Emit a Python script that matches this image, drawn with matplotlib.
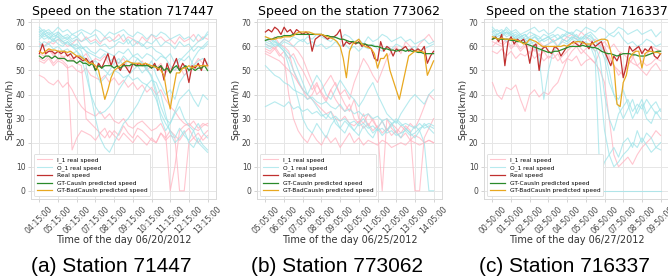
import numpy as np
import matplotlib.pyplot as plt

plt.rcParams['font.family'] = 'DejaVu Sans'

# colours
PINK = '#ffb3c0'
CYAN = '#9fe4e9'
RED = '#c0302f'
GREEN = '#2a8a2a'
ORANGE = '#e8a820'

# ---------------- station 717447 (a) ----------------
a_ticks = ['04:15:00', '05:15:00', '06:15:00', '07:15:00', '08:15:00',
           '09:15:00', '10:15:00', '11:15:00', '12:15:00', '13:15:00']
# main series, one value every 10 minutes
a_real = [57, 61, 57, 58, 58, 57, 58, 57, 58, 56,
          57, 55, 56, 55, 54, 55, 53, 54, 50, 53,
          51, 54, 57, 52, 56, 52, 50, 53, 51, 49,
          53, 52, 53, 52, 53, 52, 51, 53, 50, 52,
          46, 53, 49, 52, 55, 50, 53, 51, 45, 52,
          51, 53, 50, 55, 52]
a_causin = [56, 55, 56, 56, 55, 56, 55, 55, 55, 54,
            54, 54, 53, 54, 53, 53, 52, 53, 50, 52,
            51, 52, 52, 52, 51, 52, 51, 52, 52, 52,
            53, 52, 52, 52, 52, 52, 51, 52, 51, 52,
            50, 51, 49, 51, 52, 50, 51, 52, 50, 51,
            50, 51, 51, 52, 50]
a_bad = [58, 57, 58, 59, 58.5, 58.5, 58, 58, 58, 57.5,
         58, 57, 56, 56, 55, 54, 53, 53, 52, 50,
         44, 38, 42, 47, 50, 51, 52, 53, 54, 53.5,
         53, 53, 53, 52.5, 53, 52.5, 52, 51.5, 51, 50,
         48, 40, 34, 42, 49, 49, 51, 51, 52, 51,
         52, 52, 52, 52, 52]
# neighbour sensors, one value every 15 minutes
a_in = [
    [55, 54, 56, 53, 55, 54, 52, 17, 22, 25, 24, 23, 21, 24, 26, 22, 25, 23, 27, 24,
     22, 26, 25, 23, 21, 20, 24, 22, 25, 23, 21, 24, 26, 22, 20, 23, 25],
    [48, 47, 45, 44, 46, 43, 45, 42, 38, 35, 33, 32, 31, 33, 30, 32, 29, 28, 30, 27,
     26, 28, 29, 27, 25, 26, 28, 24, 0, 10, 25, 27, 28, 26, 25, 27, 28],
    [57, 56, 58, 57, 55, 56, 54, 55, 53, 52, 30, 28, 26, 24, 22, 25, 23, 21, 24, 22,
     20, 23, 21, 19, 22, 20, 24, 21, 23, 22, 0, 0, 20, 22, 24, 21, 23],
    [61, 60, 62, 61, 63, 62, 60, 61, 63, 62, 64, 62, 63, 61, 64, 62, 63, 65, 62, 64,
     63, 61, 64, 62, 65, 63, 64, 62, 63, 61, 64, 62, 63, 65, 62, 64, 63],
    [54, 53, 55, 52, 54, 53, 51, 52, 50, 49, 51, 48, 47, 46, 48, 45, 47, 44, 46, 43,
     45, 42, 44, 41, 43, 40, 42, 38, 35, 33, 30, 28, 27, 29, 26, 28, 27],
    [58, 57, 59, 56, 58, 55, 57, 54, 56, 55, 57, 53, 55, 54, 56, 52, 54, 53, 55, 51,
     53, 52, 54, 50, 52, 51, 53, 49, 51, 50, 52, 48, 50, 52, 55, 53, 51],
]
a_out = [
    [66, 67, 65, 66, 68, 66, 67, 65, 66, 67, 66, 65, 67, 66, 64, 66, 65, 66, 67, 65,
     64, 66, 65, 63, 65, 64, 66, 65, 63, 64, 65, 63, 64, 62, 65, 63, 66],
    [63, 65, 64, 62, 66, 64, 63, 65, 64, 66, 63, 64, 65, 62, 63, 64, 62, 63, 65, 61,
     63, 62, 60, 62, 61, 63, 60, 62, 61, 59, 62, 60, 61, 58, 60, 59, 61],
    [60, 62, 61, 63, 61, 60, 62, 60, 61, 59, 60, 58, 57, 59, 58, 57, 56, 58, 57, 59,
     56, 57, 55, 57, 56, 54, 56, 55, 57, 53, 55, 54, 56, 52, 54, 55, 53],
    [65, 63, 64, 62, 63, 61, 62, 60, 58, 55, 48, 40, 35, 32, 33, 35, 38, 42, 45, 48,
     50, 52, 49, 51, 47, 40, 30, 25, 28, 32, 35, 30, 27, 25, 28, 24, 22],
    [67, 65, 66, 64, 65, 63, 64, 62, 63, 60, 58, 55, 50, 45, 47, 50, 53, 55, 52, 54,
     56, 55, 53, 50, 48, 42, 35, 30, 28, 33, 38, 40, 42, 38, 35, 40, 38],
    [64, 66, 63, 65, 64, 62, 63, 61, 60, 58, 52, 40, 30, 22, 18, 16, 20, 24, 28, 30,
     33, 36, 40, 44, 46, 45, 40, 32, 24, 20, 22, 25, 20, 18, 22, 19, 17],
    [62, 60, 61, 59, 60, 58, 59, 57, 58, 56, 55, 53, 54, 52, 50, 48, 50, 49, 47, 48,
     46, 47, 45, 44, 42, 38, 32, 28, 25, 22, 26, 23, 21, 25, 20, 18, 16],
    [66, 64, 65, 63, 64, 62, 61, 60, 59, 60, 58, 57, 56, 55, 57, 54, 55, 53, 56, 54,
     52, 55, 53, 51, 54, 48, 44, 40, 42, 38, 45, 48, 50, 55, 58, 60, 62],
    [68, 66, 67, 65, 66, 64, 65, 63, 64, 62, 63, 61, 62, 60, 61, 59, 60, 62, 61, 63,
     60, 62, 61, 59, 60, 58, 57, 55, 52, 50, 54, 56, 58, 60, 62, 63, 65],
]

# ---------------- station 773062 (b) ----------------
b_ticks = ['05:05:00', '06:05:00', '07:05:00', '08:05:00', '09:05:00',
           '10:05:00', '11:05:00', '12:05:00', '13:05:00', '14:05:00']
b_real = [66, 67, 66, 68, 67, 65, 68, 66, 67, 65,
          67, 66, 65, 66, 65, 58, 63, 64, 65, 64,
          63, 64, 64, 65, 67, 60, 62, 61, 62, 61,
          62, 60, 61, 60, 59, 55, 54, 62, 58, 60,
          59, 56, 59, 58, 59, 60, 58, 59, 58, 59,
          58, 60, 53, 56, 58]
b_causin = [62.5, 63, 63, 63.5, 64, 64, 64.5, 64.5, 64.5, 65,
            65, 65, 65, 65, 65, 65, 65, 65, 65, 64.5,
            64.5, 64, 64, 63.5, 63, 63, 62.5, 62, 62, 61.5,
            61.5, 61, 61, 60.5, 60.5, 60, 60, 59.5, 59, 59,
            58.5, 58.5, 58, 58.5, 58.5, 58, 58.5, 58, 58, 57.5,
            57.5, 57, 57, 57, 57]
b_bad = [64, 63.5, 63, 63, 63.5, 63.5, 64, 64, 64, 64.5,
         65.5, 66, 66, 66, 66, 65.5, 65, 65, 65, 64.5,
         64, 63.5, 63, 62, 60, 55, 47, 58, 61, 62,
         63, 61, 60, 59.5, 59, 57, 51, 55, 55, 57,
         50, 46, 42, 38, 44, 50, 56, 57, 58, 58,
         58, 57.5, 48, 51, 54]
b_in = [
    [59, 58, 60, 57, 55, 40, 30, 25, 22, 20, 24, 21, 19, 23, 20, 22, 18, 21, 24, 20,
     22, 19, 21, 20, 19, 21, 20, 18, 19, 20, 19, 21, 20, 19, 20, 21, 20],
    [61, 60, 59, 61, 60, 58, 50, 45, 42, 38, 40, 44, 41, 38, 42, 45, 40, 36, 33, 38,
     30, 28, 32, 29, 26, 0, 30, 26, 24, 27, 25, 28, 26, 30, 35, 40, 38],
    [58, 57, 59, 56, 58, 55, 57, 53, 50, 46, 42, 45, 40, 37, 42, 38, 35, 33, 36, 30,
     28, 32, 27, 30, 26, 29, 25, 28, 26, 24, 27, 25, 0, 0, 22, 26, 30],
    [63, 62, 64, 61, 63, 62, 60, 58, 55, 50, 45, 40, 42, 45, 48, 44, 40, 42, 38, 45,
     50, 55, 52, 48, 45, 50, 55, 58, 60, 57, 62, 60, 58, 61, 63, 65, 62],
    [57, 56, 55, 54, 52, 50, 48, 45, 42, 40, 38, 36, 34, 32, 33, 30, 29, 31, 28, 27,
     29, 26, 28, 25, 27, 24, 26, 23, 25, 22, 24, 21, 23, 22, 20, 21, 20],
]
b_out = [
    [61, 60, 62, 61, 63, 62, 64, 63, 62, 64, 63, 65, 64, 63, 62, 64, 63, 65, 64, 62,
     63, 61, 64, 62, 63, 65, 64, 62, 63, 64, 62, 63, 61, 62, 63, 61, 62],
    [60, 59, 61, 60, 62, 61, 60, 62, 63, 61, 62, 60, 61, 59, 60, 62, 60, 61, 59, 60,
     58, 60, 59, 61, 59, 58, 60, 59, 61, 60, 58, 59, 60, 58, 59, 60, 61],
    [52, 50, 48, 47, 45, 44, 42, 41, 40, 38, 39, 37, 36, 37, 35, 34, 36, 33, 34, 32,
     33, 31, 32, 30, 31, 29, 30, 28, 29, 27, 28, 27, 26, 28, 26, 27, 26],
    [35, 36, 37, 36, 35, 37, 34, 35, 33, 34, 32, 33, 31, 32, 30, 31, 29, 30, 28, 29,
     27, 28, 26, 27, 25, 26, 24, 25, 23, 24, 25, 23, 24, 26, 27, 28, 27],
    [62, 61, 63, 60, 58, 52, 45, 38, 30, 26, 24, 28, 25, 22, 27, 30, 26, 24, 28, 25,
     23, 27, 24, 22, 26, 23, 25, 28, 24, 22, 26, 24, 27, 25, 28, 26, 24],
    [63, 62, 60, 61, 59, 57, 55, 50, 45, 40, 38, 35, 32, 30, 33, 28, 26, 29, 27, 25,
     28, 30, 27, 24, 26, 29, 25, 27, 30, 28, 26, 24, 22, 25, 20, 0, 0],
    [64, 63, 62, 60, 58, 55, 50, 46, 42, 40, 44, 48, 45, 40, 38, 42, 46, 43, 40, 38,
     35, 38, 42, 45, 40, 36, 32, 30, 28, 32, 35, 38, 40, 38, 36, 40, 42],
]

# ---------------- station 716337 (c) ----------------
c_ticks = ['00:50:00', '01:50:00', '02:50:00', '03:50:00', '04:50:00',
           '05:50:00', '06:50:00', '07:50:00', '08:50:00', '09:50:00']
c_real = [63, 64, 62, 65, 52, 62, 64, 61, 63, 62,
          63, 60, 53, 60, 61, 50, 59, 60, 58, 57,
          60, 59, 56, 58, 60, 61, 62, 61, 60, 62,
          61, 59, 62, 60, 61, 62, 58, 55, 52, 56,
          54, 57, 47, 52, 60, 58, 59, 60, 57, 59,
          58, 60, 56, 55, 57]
c_causin = [63, 63.5, 63, 63, 63, 63, 62.5, 62.5, 62, 62,
            61.5, 61, 60.5, 60, 59.5, 59, 58.5, 58, 57.5, 57.5,
            58, 58, 58.5, 59, 59.5, 60, 60, 60, 60, 60.5,
            60, 60, 59.5, 59.5, 59, 58, 57.5, 57, 57, 56.5,
            56, 56.5, 57, 57, 57, 56.5, 56.5, 56, 56, 56,
            56.5, 57, 57.5, 58, 58]
c_bad = [64, 63.5, 63, 63.5, 63, 63, 63, 63, 62.5, 62,
         61, 61.5, 63, 62.5, 62, 61, 60, 60, 60, 60,
         60, 60, 60, 60.5, 60, 61, 61.5, 62, 62, 61.5,
         61, 61, 61, 62, 62.5, 63, 63, 62.5, 58, 52,
         36, 35, 45, 48, 55, 57, 58, 58, 51, 57,
         58, 58, 57.5, 57.5, 57]
c_in = [
    [45, 40, 38, 43, 42, 44, 38, 33, 40, 42, 39, 41, 40, 43, 45, 50, 55, 58, 60, 57,
     59, 61, 58, 60, 62, 59, 61, 58, 57, 55, 53, 52, 54, 52, 53, 55, 54],
    [60, 62, 61, 63, 60, 62, 59, 61, 60, 58, 62, 60, 61, 63, 60, 62, 64, 65, 63, 66,
     64, 62, 63, 61, 58, 55, 52, 50, 48, 52, 55, 60, 58, 56, 60, 59, 58],
    [58, 57, 59, 56, 58, 55, 57, 56, 58, 55, 57, 54, 56, 55, 57, 53, 55, 54, 56, 52,
     54, 55, 53, 50, 45, 30, 15, 10, 12, 14, 11, 15, 18, 20, 22, 25, 23],
    [62, 61, 60, 62, 59, 61, 58, 60, 57, 59, 56, 58, 55, 57, 54, 56, 58, 60, 62, 59,
     57, 55, 53, 58, 60, 56, 52, 48, 50, 54, 56, 52, 50, 48, 51, 53, 50],
]
c_out = [
    [66, 67, 65, 68, 66, 67, 65, 66, 67, 68, 66, 67, 65, 66, 68, 67, 66, 65, 67, 66,
     68, 67, 66, 68, 67, 65, 66, 68, 67, 65, 66, 67, 65, 66, 67, 64, 66],
    [64, 65, 66, 64, 65, 63, 64, 62, 63, 64, 62, 63, 64, 65, 63, 64, 66, 65, 64, 63,
     65, 66, 64, 62, 63, 65, 64, 66, 63, 61, 62, 60, 61, 63, 62, 60, 61],
    [68, 66, 67, 65, 66, 64, 65, 63, 64, 65, 62, 63, 64, 62, 63, 65, 64, 63, 65, 62,
     64, 63, 60, 55, 40, 30, 25, 32, 35, 38, 33, 36, 34, 38, 35, 32, 34],
    [65, 63, 64, 62, 63, 64, 62, 63, 61, 62, 58, 60, 61, 62, 60, 63, 62, 64, 63, 62,
     61, 60, 55, 6, 12, 15, 18, 14, 20, 22, 18, 25, 20, 24, 22, 18, 20],
    [67, 65, 66, 67, 65, 66, 64, 65, 63, 60, 55, 38, 50, 58, 60, 62, 61, 63, 62, 64,
     63, 65, 62, 60, 58, 50, 40, 35, 30, 34, 38, 32, 36, 30, 28, 33, 30],
    [0, 0, 0, 0, 0, 0, 0, 0, 0, 0, 0, 0, 0, 0, 0, 0, 0, 0, 0, 0,
     0, 0, 0, 0, 0, 0, 0, 0, 0, 0, 0, 0, 0, 0, 0, 0, 0],
    [66, 64, 65, 66, 64, 65, 63, 64, 66, 65, 64, 62, 63, 64, 65, 63, 62, 64, 63, 61,
     62, 60, 58, 45, 25, 15, 10, 12, 15, 17, 20, 18, 22, 19, 16, 18, 17],
    [63, 65, 64, 66, 65, 63, 64, 65, 62, 64, 63, 65, 64, 62, 63, 64, 65, 66, 64, 63,
     65, 64, 62, 60, 55, 45, 40, 38, 42, 36, 30, 34, 38, 32, 35, 37, 33],
]

titles = ['Speed on the station 717447', 'Speed on the station 773062',
          'Speed on the station 716337']
xlabels = ['Time of the day 06/20/2012', 'Time of the day 06/25/2012',
           'Time of the day 06/27/2012']
captions = ['(a) Station 71447', '(b) Station 773062', '(c) Station 716337']


def draw(ax, ins, outs, real, causin, bad, ticks, title, xlabel):
    for i, y in enumerate(ins):
        ax.plot(np.arange(len(y)) * 15, y, color=PINK, lw=0.8, alpha=0.75,
                label='I_1 real speed' if i == 0 else None)
    for i, y in enumerate(outs):
        ax.plot(np.arange(len(y)) * 15, y, color=CYAN, lw=0.8, alpha=0.75,
                label='O_1 real speed' if i == 0 else None)
    x = np.arange(len(real)) * 10
    ax.plot(x, real, color=RED, lw=0.9, label='Real speed')
    ax.plot(x, causin, color=GREEN, lw=0.9, label='GT-CausIn predicted speed')
    ax.plot(x, bad, color=ORANGE, lw=0.9, label='GT-BadCausIn predicted speed')

    ax.set_xticks(np.arange(len(ticks)) * 60)
    ax.set_xticklabels(ticks, rotation=45, fontsize=5.6, color='#444444')
    ax.set_yticks(np.arange(0, 71, 10))
    ax.tick_params(axis='y', labelsize=5.5, labelcolor='#444444')
    ax.tick_params(length=2.5, width=0.6, color='#cccccc', pad=1.5)
    ax.grid(True, color='#e6e6e6', lw=0.7)
    ax.set_axisbelow(True)
    for s in ax.spines.values():
        s.set_color('#d9d9d9')
        s.set_linewidth(0.7)
    ax.set_title(title, fontsize=9, pad=3)
    ax.set_xlabel(xlabel, fontsize=7, color='#333333', labelpad=0)
    ax.set_ylabel('Speed(km/h)', fontsize=6.8, color='#333333', labelpad=1)
    leg = ax.legend(loc='lower left', fontsize=4.2, handlelength=2.6,
                    borderpad=0.5, labelspacing=0.4, framealpha=1)
    leg.get_frame().set_edgecolor('#dddddd')
    leg.get_frame().set_linewidth(0.6)


fig = plt.figure(figsize=(6.68, 2.8), dpi=100)
lefts = [31, 257, 484]
data = [(a_in, a_out, a_real, a_causin, a_bad, a_ticks),
        (b_in, b_out, b_real, b_causin, b_bad, b_ticks),
        (c_in, c_out, c_real, c_causin, c_bad, c_ticks)]
for k in range(3):
    ax = fig.add_axes([lefts[k] / 668, 1 - 199 / 280, 185 / 668, 180 / 280])
    ins, outs, real, causin, bad, ticks = data[k]
    draw(ax, ins, outs, real, causin, bad, ticks, titles[k], xlabels[k])
    fig.text((lefts[k] + 80) / 668, 1 - 266 / 280, captions[k],
             family='Liberation Sans', fontsize=15, ha='center', va='center')

fig.savefig('out.png', dpi=100)
